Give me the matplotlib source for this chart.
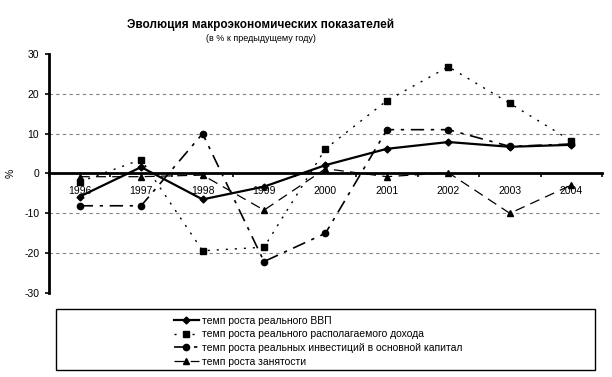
import matplotlib
matplotlib.use('Agg')
import matplotlib.pyplot as plt
from matplotlib.patches import Rectangle

plt.rcParams['font.family'] = ['Liberation Sans', 'DejaVu Sans']

years = ['1996', '1997', '1998', '1999', '2000', '2001', '2002', '2003', '2004']
gdp = [-5.8, 1.6, -6.5, -3.3, 2.1, 6.2, 7.9, 6.7, 7.2]
income = [-2.1, 3.5, -19.4, -18.5, 6.2, 18.3, 26.8, 17.6, 8.2]
invest = [-8.1, -8.1, 10.0, -22.1, -15.0, 11.0, 11.0, 6.8, 7.4]
employ = [-0.8, -0.8, -0.4, -9.2, 1.2, -0.8, 0.2, -10.0, -2.9]

labels = ['темп роста реального ВВП',
          'темп роста реального располагаемого дохода',
          'темп роста реальных инвестиций в основной капитал',
          'темп роста занятости']

fig = plt.figure(figsize=(6.12, 3.77), dpi=100)
ax = fig.add_axes([0.080, 0.2228, 0.9037, 0.634])

x = list(range(len(years)))

# grid lines (no line at +/-30)
for g in [-20, -10, 10, 20]:
    ax.axhline(g, color='#808080', lw=0.8, ls=(0, (3, 3)), zorder=0)

l1, = ax.plot(x, gdp, color='black', lw=1.6, marker='D', ms=3.5, label=labels[0], zorder=5)
l2, = ax.plot(x, income, color='black', lw=1.0, ls=(0, (1.5, 5)), marker='s', ms=5,
              label=labels[1], zorder=4)
l3, = ax.plot(x, invest, color='black', lw=1.2, ls=(0, (8, 4, 2, 4)), marker='o', ms=4.5,
              label=labels[2], zorder=4)
l4, = ax.plot(x, employ, color='black', lw=0.9, ls=(0, (8, 5)), marker='^', ms=4.5,
              label=labels[3], zorder=4)

ax.set_xlim(-0.5, 8.5)
ax.set_ylim(-30, 30)

for s in ['top', 'right']:
    ax.spines[s].set_visible(False)
ax.spines['left'].set_linewidth(2)
ax.spines['bottom'].set_position(('data', 0))
ax.spines['bottom'].set_linewidth(2)

ax.set_yticks([-30, -20, -10, 0, 10, 20, 30])
ax.set_yticklabels(['-30', '-20', '-10', '0', '10', '20', '30'])
ax.tick_params(axis='y', direction='out', length=3, width=1.2, pad=4, labelsize=7.5)

# ticks between categories, labels at categories
ax.set_xticks([i - 0.5 for i in range(len(years) + 1)])
ax.set_xticklabels([])
ax.tick_params(axis='x', which='major', direction='out', length=3, width=1.2)
ax.set_xticks(x, minor=True)
ax.set_xticklabels(years, minor=True)
ax.tick_params(axis='x', which='minor', length=0, pad=9, labelsize=7.5)

ax.set_ylabel('%', fontsize=7.5)
ax.yaxis.set_label_coords(-0.06, 0.5)

fig.text(0.426, 0.935, 'Эволюция макроэкономических показателей', ha='center', va='center',
         fontsize=8.5, fontweight='bold')
fig.text(0.426, 0.898, '(в % к предыдущему году)', ha='center', va='center', fontsize=6.5)

# legend box
fig.patches.append(Rectangle((0.0915, 0.0186), 0.8805, 0.1618, transform=fig.transFigure,
                             fill=False, edgecolor='black', lw=1.0))
leg = fig.legend(handles=[l1, l2, l3, l4], loc='upper left', bbox_to_anchor=(0.272, 0.182),
                 frameon=False, fontsize=7.5, handlelength=2.4, handletextpad=0.3,
                 labelspacing=0.35, borderpad=0.2, numpoints=1)

fig.savefig('out.png', dpi=100)
